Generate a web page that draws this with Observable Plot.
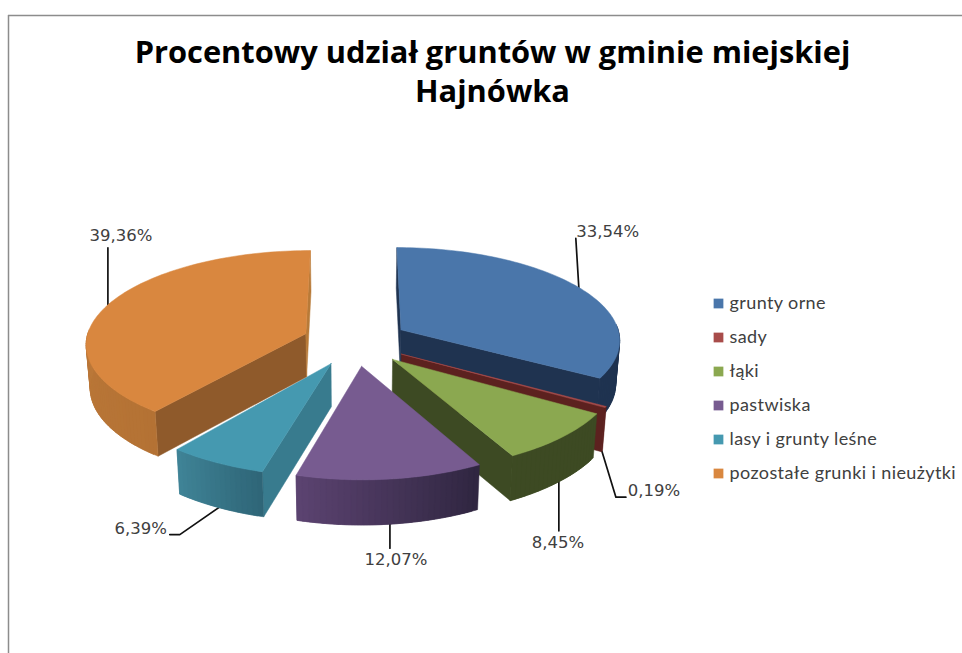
<!DOCTYPE html>
<html lang="pl">
<head>
<meta charset="utf-8">
<script src="https://cdn.jsdelivr.net/npm/d3@7"></script>
<script src="https://cdn.jsdelivr.net/npm/@observablehq/plot@0.6"></script>
<style>html,body{margin:0;padding:0;background:#fff}svg{display:block}</style>
</head>
<body>
<div id="chart"></div>
<script>
// Data
const categories = ["grunty orne","sady","łąki","pastwiska","lasy i grunty leśne","pozostałe grunki i nieużytki"];
const percents = [33.54,0.19,8.45,12.07,6.39,39.36];
const percentLabels = ["33,54%","0,19%","8,45%","12,07%","6,39%","39,36%"];
const titleLines = ["Procentowy udział gruntów w gminie miejskiej","Hajnówka"];

// Colours
const topColors  = ["#4a76aa","#a84c4a","#8ba850","#775b90","#4599b0","#d9873f"];
const wallLeft   = ["#1f3350","#5c211f","#3d4a23","#5c4371","#3f8497","#c68241"];
const wallRight  = ["#1f3350","#5c211f","#3d4a23","#2f2640","#2f6577","#b47234"];
const cutStart   = ["#1f3350","#5c211f","#3d4a23","#3a2b4c","#387b8e","#8f5a2b"];
const cutEnd     = ["#1f3350","#5c211f","#3d4a23","#3a2b4c","#387b8e","#b87a38"];

// Projection of the tilted, exploded pie
const cx = 355, cy = 341, Rx = 220, Ry = 90, kx = 0.10, ky = 0.14, explodeX = 53, explodeY = 24, depth = 43;
const project = (ox, oy, u, v, bottom) => {
  const X = ox + Rx * u, Y = oy + Ry * v;
  let x = cx + X / (1 - kx * Y / Ry);
  let y = cy + Y / (1 - ky * Y / Ry) - 6 * v * (v - 1) / 2;
  if (bottom) { x = cx + (x - cx) * 0.985; y += depth * (1 + 0.05 * v); }
  return [x, y];
};

const total = d3.sum(percents);
const cumul = d3.cumsum(percents);
const slices = percents.map((p, i) => {
  const a0 = (cumul[i] - p) / total * 2 * Math.PI;
  const a1 = cumul[i] / total * 2 * Math.PI;
  const mid = (a0 + a1) / 2;
  return {i, a0, a1, mid, ox: Math.sin(mid) * explodeX, oy: -Math.cos(mid) * explodeY};
});
const rim = (s, a, bottom) => project(s.ox, s.oy, Math.sin(a), -Math.cos(a), bottom);
const apex = (s, bottom) => project(s.ox, s.oy, 0, 0, bottom);

const rows = [];
let pid = 0;
const poly = (pts, c) => { const id = pid++; [...pts, pts[0]].forEach(([x, y]) => rows.push({id, x, y, c})); };

for (const s of slices) {
  // radial cut faces
  if (Math.sin(s.a0) <= 1e-9) poly([apex(s), rim(s, s.a0), rim(s, s.a0, true), apex(s, true)], cutStart[s.i]);
  if (Math.sin(s.a1) >= -1e-9) poly([apex(s), rim(s, s.a1), rim(s, s.a1, true), apex(s, true)], cutEnd[s.i]);
  // outer wall in overlapping facets, shaded across the slice
  const n = Math.max(2, Math.ceil((s.a1 - s.a0) / 0.025));
  const shade = d3.interpolateRgb(wallRight[s.i], wallLeft[s.i]);
  for (let j = 0; j < n; j++) {
    const b0 = s.a0 + (s.a1 - s.a0) * j / n, b1 = s.a0 + (s.a1 - s.a0) * Math.min(n, j + 2) / n;
    if (-Math.cos(b0) < -0.01 && -Math.cos(b1) < -0.01) continue;
    const steps = d3.range(5).map(q => b0 + (b1 - b0) * q / 4);
    poly([...steps.map(a => rim(s, a)), ...steps.reverse().map(a => rim(s, a, true))], shade((j + 0.5) / n));
  }
  // top face
  const arc = d3.range(n + 1).map(j => rim(s, s.a0 + (s.a1 - s.a0) * j / n));
  poly([apex(s), ...arc], topColors[s.i]);
}

// Leaders start on the rim at the slice's mid-angle, then follow these offsets
const leaderOffsets = [[[-3,-49]],[[14,46],[24,46]],[[0,49]],[[0,24]],[[-39,27],[-49,27]],[[0,-57]]];
const labelOffsets = [[29,-56],[52,40],[-1,61],[6,36],[-78,21],[13,-69]];
const leaders = [], labels = [];
slices.forEach(s => {
  const front = -Math.cos(s.mid) > 0;
  const [x0, y0] = rim(s, s.mid, front);
  leaders.push({id: s.i, x: x0, y: y0});
  leaderOffsets[s.i].forEach(([dx, dy]) => leaders.push({id: s.i, x: x0 + dx, y: y0 + dy}));
  labels.push({x: x0 + labelOffsets[s.i][0], y: y0 + labelOffsets[s.i][1], text: percentLabels[s.i]});
});

const legendY = d3.scalePoint().domain(categories).range([303, 473]);
const spaced = (index, scales, values, dims, context, next) => {
  const g = next(index, scales, values, dims, context);
  g.style.letterSpacing = "0.4px";
  return g;
};

const chart = Plot.plot({
  width: 962, height: 653, margin: 0,
  x: {domain: [0, 962], range: [0, 962], axis: null},
  y: {domain: [0, 653], range: [0, 653], axis: null},
  color: {type: "identity"},
  style: {background: "#fff"},
  marks: [
    Plot.ruleY([15], {x1: 8, x2: 962, stroke: "#8c8c8c", strokeWidth: 1.5}),
    Plot.ruleX([8], {y1: 15, y2: 653, stroke: "#8c8c8c", strokeWidth: 1.5}),
    Plot.line(leaders, {x: "x", y: "y", z: "id", stroke: "#111", strokeWidth: 1.7}),
    Plot.line(rows, {x: "x", y: "y", z: "id", fill: "c", stroke: "c", strokeWidth: 0.5}),
    Plot.text(titleLines, {
      x: 492, y: (d, i) => 53 + i * 39, text: d => d, fontSize: 30.8, fontWeight: 700,
      fontFamily: "Open Sans", fill: "#000"
    }),
    Plot.text(labels, {x: "x", y: "y", text: "text", fontSize: 16.5, fontFamily: "DejaVu Sans", fill: "#404040"}),
    Plot.dot(categories, {
      x: 718, y: d => legendY(d), symbol: "square", r: 5.5, fill: (d, i) => topColors[i], stroke: null
    }),
    Plot.text(categories, {
      x: 729, y: d => legendY(d), text: d => d, textAnchor: "start", fontSize: 18,
      fontFamily: "Lato", fill: "#404040", render: spaced
    })
  ]
});
document.getElementById("chart").append(chart);
</script>
</body>
</html>
